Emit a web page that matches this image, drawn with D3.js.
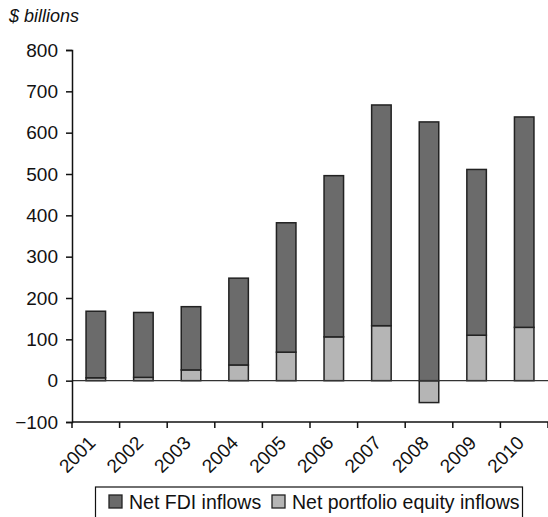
<!DOCTYPE html>
<html><head><meta charset="utf-8">
<script src="https://cdn.jsdelivr.net/npm/d3@7"></script>
<style>
body{margin:0;background:#fff;}
svg{display:block;font-family:"Liberation Sans",Arial,sans-serif;}
</style></head>
<body>
<svg id="chart" width="548" height="517"></svg>
<script>
const years = ["2001","2002","2003","2004","2005","2006","2007","2008","2009","2010"];
const fdi = [161,157,153,210,313,390,534,626,401,509];
const portfolio = [7,8,26,38,69,106,133,-53,110,129];
const yTicks = [-100,0,100,200,300,400,500,600,700,800];
const seriesNames = ["Net FDI inflows","Net portfolio equity inflows"];
const colors = {fdi:"#6b6b6b", portfolio:"#b5b5b5"};

const svg = d3.select("#chart");
const mLeft = 72, mRight = 548, mTop = 50, mBottom = 422;

const x = d3.scaleBand().domain(years).range([mLeft, mRight]).paddingInner(0.59).paddingOuter(0.295);
const y = d3.scaleLinear().domain([-100, 800]).range([mBottom, mTop]);

const data = years.map((yr,i)=>({year:yr, portfolio:portfolio[i], fdi:fdi[i]}));
const stack = d3.stack().keys(["portfolio","fdi"]).offset(d3.stackOffsetDiverging);
const layers = stack(data);

// bars
svg.append("g").selectAll("g").data(layers).join("g")
  .attr("fill", d=>colors[d.key])
  .selectAll("rect").data(d=>d).join("rect")
  .attr("x", d=>x(d.data.year))
  .attr("width", x.bandwidth())
  .attr("y", d=>y(Math.max(d[0],d[1])))
  .attr("height", d=>Math.abs(y(d[0])-y(d[1])))
  .attr("stroke","#222").attr("stroke-width",1.5);

// zero line
svg.append("line").attr("x1",mLeft).attr("x2",mRight).attr("y1",y(0)).attr("y2",y(0))
  .attr("stroke","#333").attr("stroke-width",1.3);

// y axis
const yAxis = d3.axisLeft(y).tickValues(yTicks).tickSize(6).tickPadding(8)
  .tickFormat(d=> d<0 ? "\u2212"+Math.abs(d) : d);
const gy = svg.append("g").attr("transform",`translate(${mLeft},0)`).call(yAxis);
gy.select(".domain").attr("stroke","#111").attr("stroke-width",1.5);
gy.selectAll(".tick line").attr("stroke","#111").attr("stroke-width",1.5);
gy.selectAll("text").attr("font-size",19).attr("fill","#111");

// x axis at -100 with ticks at band boundaries
const gx = svg.append("g").attr("transform",`translate(0,${mBottom})`);
gx.append("line").attr("x1",mLeft).attr("x2",mRight).attr("stroke","#111").attr("stroke-width",1.5);
const step = x.step();
const boundaries = d3.range(years.length+1).map(i=>mLeft + i*step);
gx.selectAll("line.tk").data(boundaries).join("line").attr("class","tk")
  .attr("x1",d=>d).attr("x2",d=>d).attr("y1",0).attr("y2",6)
  .attr("stroke","#111").attr("stroke-width",1.5);
gx.selectAll("text").data(years).join("text")
  .attr("transform",d=>`translate(${x(d)+x.bandwidth()/2+1},22) rotate(-45)`)
  .attr("text-anchor","end")
  .attr("font-size",19).attr("fill","#111").text(d=>d);

// y label
svg.append("text").attr("x",9).attr("y",22).attr("font-size",18).attr("font-style","italic")
  .attr("fill","#111").text("$ billions");

// legend
const lg = svg.append("g");
lg.append("rect").attr("x",95.5).attr("y",487).attr("width",427).attr("height",40)
  .attr("fill","none").attr("stroke","#111").attr("stroke-width",1.2);
const legItems = [{name:seriesNames[0],c:colors.fdi,sx:109,tx:129},{name:seriesNames[1],c:colors.portfolio,sx:272,tx:292}];
legItems.forEach(it=>{
  lg.append("rect").attr("x",it.sx).attr("y",495).attr("width",13).attr("height",13)
    .attr("fill",it.c).attr("stroke","#222").attr("stroke-width",1.3);
  lg.append("text").attr("x",it.tx).attr("y",509).attr("font-size",19.5).attr("fill","#111").text(it.name);
});
</script>
</body></html>
